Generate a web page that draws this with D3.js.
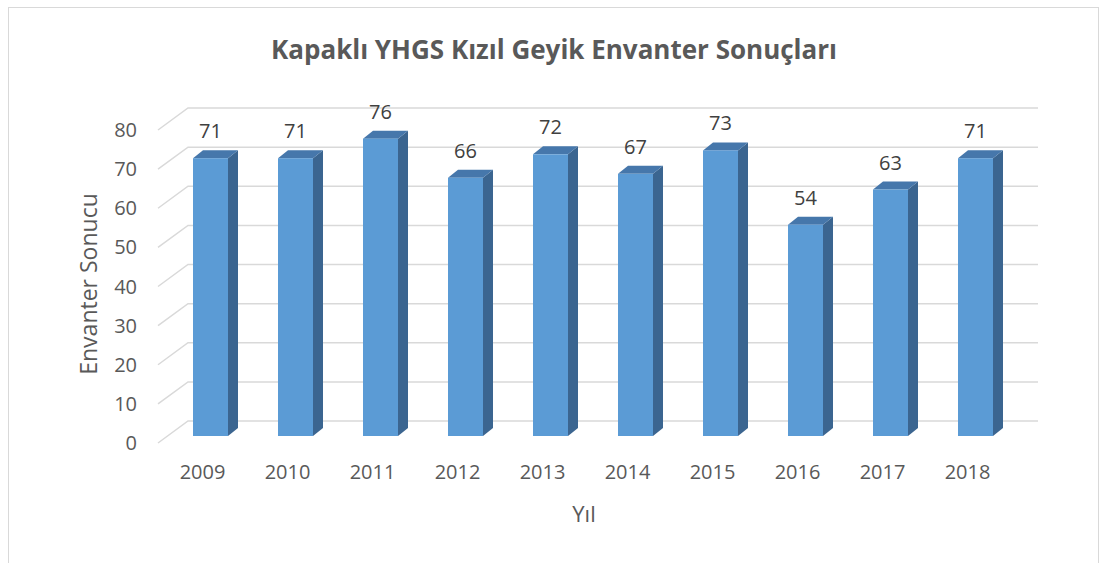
<!DOCTYPE html>
<html>
<head>
<meta charset="utf-8">
<script src="https://cdn.jsdelivr.net/npm/d3@7"></script>
<style>
  body { margin: 0; background: #fff; }
  svg { display: block; font-family: "Open Sans", "Noto Sans", sans-serif; }
</style>
</head>
<body>
<div id="chart"></div>
<script>
const years = ["2009", "2010", "2011", "2012", "2013", "2014", "2015", "2016", "2017", "2018"];
const values = [71, 71, 76, 66, 72, 67, 73, 54, 63, 71];
const yTicks = [0, 10, 20, 30, 40, 50, 60, 70, 80];

const width = 1105, height = 563;
const barW = 35;       // front face width
const depthX = 10, depthY = 8;   // bar depth offset
const wallX = 30, wallY = 22;    // floor depth offset for gridlines

const svg = d3.select('#chart').append('svg')
    .attr('width', width)
    .attr('height', height);

// chart border
svg.append('rect')
    .attr('x', 8.5).attr('y', 7.5)
    .attr('width', 1090).attr('height', 570)
    .attr('fill', 'none')
    .attr('stroke', '#d9d9d9')
    .attr('stroke-width', 1);

const x = d3.scalePoint().domain(years).range([210.5, 975.5]);
const y = d3.scaleLinear().domain([0, 80]).range([436, 123]);

// gridlines: short diagonal on the side wall + line along the back wall
const grid = svg.append('g').attr('stroke', '#d9d9d9').attr('stroke-width', 1.5).attr('fill', 'none');
grid.selectAll('path')
    .data(yTicks)
    .enter()
    .append('path')
    .attr('d', d => {
        const yb = y(d) - 15;
        return `M158,${yb + wallY} L${158 + wallX},${yb} L1038,${yb}`;
    });

// y tick labels
svg.selectAll('.y-label')
    .data(yTicks)
    .enter()
    .append('text')
    .attr('class', 'y-label')
    .attr('x', 137)
    .attr('y', d => y(d) + 7)
    .attr('dy', '.35em')
    .attr('text-anchor', 'end')
    .attr('fill', '#595959')
    .style('font-size', '20px')
    .text(d => d);

// 3D bars
const bars = svg.selectAll('.bar')
    .data(years.map((yr, i) => ({ year: yr, value: values[i] })))
    .enter()
    .append('g')
    .attr('class', 'bar');

bars.append('path')   // side face
    .attr('fill', '#3b6590')
    .attr('d', d => {
        const x1 = x(d.year) + barW / 2, top = y(d.value), bot = y(0);
        return `M${x1},${top} L${x1 + depthX},${top - depthY} L${x1 + depthX},${bot - depthY} L${x1},${bot} Z`;
    });

bars.append('path')   // top face
    .attr('fill', '#4677ab')
    .attr('d', d => {
        const x0 = x(d.year) - barW / 2, x1 = x0 + barW, top = y(d.value);
        return `M${x0},${top} L${x0 + depthX},${top - depthY} L${x1 + depthX},${top - depthY} L${x1},${top} Z`;
    });

bars.append('rect')   // front face
    .attr('fill', '#5b9bd5')
    .attr('x', d => x(d.year) - barW / 2)
    .attr('y', d => y(d.value))
    .attr('width', barW)
    .attr('height', d => y(0) - y(d.value));

// value labels
bars.append('text')
    .attr('x', d => x(d.year))
    .attr('y', d => y(d.value) - depthY - 19)
    .attr('dy', '.35em')
    .attr('text-anchor', 'middle')
    .attr('fill', '#404040')
    .style('font-size', '20px')
    .text(d => d.value);

// x labels
svg.selectAll('.x-label')
    .data(years)
    .enter()
    .append('text')
    .attr('class', 'x-label')
    .attr('x', d => x(d) - 8)
    .attr('y', 472)
    .attr('dy', '.35em')
    .attr('text-anchor', 'middle')
    .attr('fill', '#595959')
    .style('font-size', '20px')
    .text(d => d);

// title
svg.append('text')
    .attr('x', 554)
    .attr('y', 50)
    .attr('dy', '.35em')
    .attr('text-anchor', 'middle')
    .attr('fill', '#595959')
    .style('font-size', '26px')
    .style('font-weight', 'bold')
    .text('Kapaklı YHGS Kızıl Geyik Envanter Sonuçları');

// axis titles
svg.append('text')
    .attr('transform', 'translate(89,284) rotate(-90)')
    .attr('dy', '.35em')
    .attr('text-anchor', 'middle')
    .attr('fill', '#595959')
    .style('font-size', '23px')
    .text('Envanter Sonucu');

svg.append('text')
    .attr('x', 584)
    .attr('y', 514)
    .attr('dy', '.35em')
    .attr('text-anchor', 'middle')
    .attr('fill', '#595959')
    .style('font-size', '22px')
    .text('Yıl');
</script>
</body>
</html>
